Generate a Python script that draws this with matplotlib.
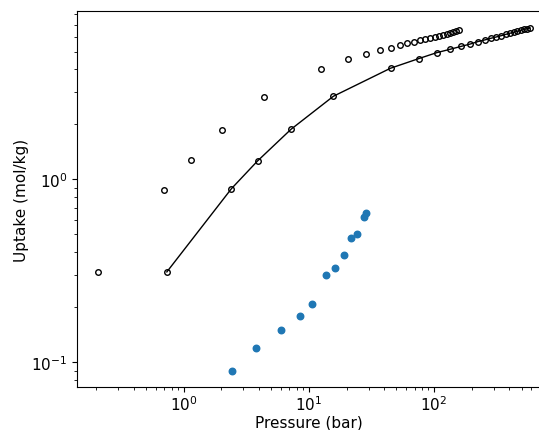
import matplotlib
matplotlib.use("Agg")
import matplotlib.pyplot as plt

# Series A: open circles, unconnected
pressure_a = [0.207, 0.698, 1.142, 2.04, 4.40, 12.5, 20.6, 28.7, 36.8, 44.9, 53.0, 61.1,
              69.2, 77.3, 85.4, 93.5, 101.6, 109.7, 117.8, 125.9, 134.0, 142.1, 150.2, 158.3]
uptake_a = [0.312, 0.880, 1.283, 1.873, 2.817, 4.00, 4.55, 4.88, 5.09, 5.26, 5.44, 5.60,
            5.67, 5.77, 5.86, 5.95, 6.03, 6.11, 6.18, 6.25, 6.32, 6.40, 6.47, 6.55]

# Series B: open circles with line
pressure_b = [0.734, 2.41, 3.89, 7.20, 15.7, 44.9, 75.2, 105, 135, 165, 195, 224,
              254, 284, 314, 344, 374, 404, 434, 464, 494, 524, 554, 584]
uptake_b = [0.312, 0.891, 1.262, 1.881, 2.852, 4.06, 4.58, 4.94, 5.16, 5.35, 5.51, 5.68,
            5.80, 5.92, 6.02, 6.12, 6.22, 6.31, 6.39, 6.47, 6.55, 6.62, 6.68, 6.74]

# Series C: filled blue dots
pressure_c = [2.43, 3.80, 5.95, 8.50, 10.6, 13.6, 16.3, 19.0, 21.6, 24.3, 27.8, 28.5]
uptake_c = [0.090, 0.120, 0.150, 0.180, 0.209, 0.299, 0.328, 0.388, 0.477, 0.505, 0.626, 0.653]

plt.rcParams["font.size"] = 11

fig = plt.figure(figsize=(5.39, 4.31), dpi=100)
ax = fig.add_axes([77.3 / 539, (431 - 388) / 431, (541 - 77.3) / 539, (388 - 12) / 431])

ax.plot(pressure_a, uptake_a, linestyle="none", marker="o", markersize=4,
        markerfacecolor="none", markeredgecolor="black", markeredgewidth=1)
ax.plot(pressure_b, uptake_b, color="black", linewidth=1, marker="o", markersize=4,
        markerfacecolor="none", markeredgecolor="black", markeredgewidth=1)
ax.scatter(pressure_c, uptake_c, s=22, color="#1f77b4", zorder=3)

ax.set_xscale("log")
ax.set_yscale("log")
ax.set_xlim(0.1414, 715)
ax.set_ylim(0.0732, 8.35)
ax.tick_params(axis="x", which="major", pad=2)
ax.set_xlabel("Pressure (bar)", labelpad=1)
ax.set_ylabel("Uptake (mol/kg)", labelpad=2)

fig.savefig("out.png", dpi=100)
